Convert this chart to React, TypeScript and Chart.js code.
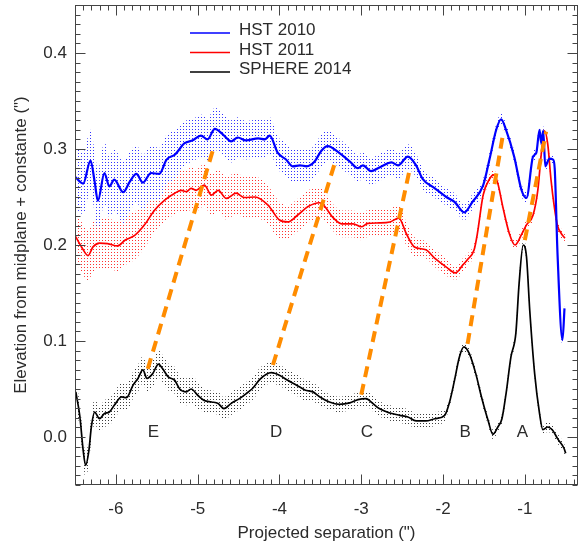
import { useEffect, useRef } from 'react';
import { Chart, registerables } from 'chart.js';

Chart.register(...registerables);

// ---------- data ----------
const blueX = [-6.50, -6.40, -6.31, -6.26, -6.22, -6.14, -6.08, -6.02, -5.91, -5.83, -5.75, -5.67, -5.57, -5.47, -5.38, -5.28, -5.16, -5.06, -4.96, -4.88, -4.79, -4.69, -4.59, -4.51, -4.41, -4.26, -4.18, -4.12, -4.02, -3.92, -3.84, -3.75, -3.67, -3.57, -3.49, -3.41, -3.27, -3.14, -3.04, -2.98, -2.88, -2.76, -2.63, -2.55, -2.43, -2.33, -2.25, -2.10, -1.96, -1.86, -1.74, -1.64, -1.51, -1.43, -1.35, -1.29, -1.23, -1.13, -1.04, -0.98, -0.90, -0.86, -0.82, -0.80, -0.775, -0.75, -0.70, -0.655, -0.635, -0.60, -0.54, -0.515];
const blueY = [0.271, 0.264, 0.288, 0.266, 0.246, 0.275, 0.261, 0.268, 0.255, 0.266, 0.274, 0.265, 0.275, 0.274, 0.289, 0.294, 0.306, 0.309, 0.314, 0.310, 0.321, 0.315, 0.308, 0.312, 0.309, 0.311, 0.310, 0.314, 0.296, 0.289, 0.282, 0.283, 0.282, 0.287, 0.298, 0.303, 0.296, 0.287, 0.280, 0.283, 0.277, 0.2815, 0.286, 0.283, 0.292, 0.283, 0.269, 0.259, 0.250, 0.245, 0.234, 0.245, 0.262, 0.290, 0.320, 0.331, 0.320, 0.292, 0.257, 0.249, 0.292, 0.296, 0.320, 0.306, 0.319, 0.282, 0.290, 0.289, 0.280, 0.190, 0.101, 0.134];
const blueErr = [0.032, 0.032, 0.032, 0.032, 0.032, 0.032, 0.032, 0.032, 0.032, 0.031, 0.030, 0.029, 0.028, 0.027, 0.026, 0.025, 0.023, 0.022, 0.022, 0.022, 0.022, 0.022, 0.022, 0.021, 0.020, 0.020, 0.020, 0.019, 0.017, 0.017, 0.017, 0.017, 0.017, 0.017, 0.017, 0.016, 0.015, 0.014, 0.014, 0.014, 0.014, 0.014, 0.014, 0.014, 0.013, 0.012, 0.011, 0.010, 0.009, 0.009, 0.008, 0.008, 0.007, 0.007, 0.006, 0.006, 0.006, 0.006, 0.006, 0.006, 0.006, 0.006, 0.005, 0.005, 0.005, 0.005, 0.005, 0.005, 0.005, 0.005, 0.005, 0.005];

const redX = [-6.50, -6.42, -6.34, -6.28, -6.20, -6.10, -5.98, -5.89, -5.77, -5.65, -5.53, -5.40, -5.28, -5.20, -5.14, -5.08, -5.02, -4.92, -4.83, -4.75, -4.65, -4.53, -4.43, -4.30, -4.14, -4.00, -3.90, -3.78, -3.65, -3.51, -3.45, -3.35, -3.24, -3.10, -3.00, -2.92, -2.78, -2.65, -2.54, -2.45, -2.35, -2.21, -2.10, -1.96, -1.85, -1.76, -1.70, -1.62, -1.58, -1.51, -1.43, -1.38, -1.33, -1.27, -1.19, -1.12, -1.04, -0.98, -0.90, -0.84, -0.80, -0.76, -0.72, -0.68, -0.64, -0.60, -0.555, -0.51];
const redY = [0.210, 0.198, 0.189, 0.198, 0.202, 0.2015, 0.199, 0.205, 0.210, 0.221, 0.236, 0.247, 0.254, 0.257, 0.2555, 0.259, 0.257, 0.2625, 0.252, 0.257, 0.2485, 0.254, 0.2495, 0.250, 0.2415, 0.226, 0.224, 0.231, 0.240, 0.244, 0.2405, 0.229, 0.222, 0.222, 0.219, 0.2225, 0.223, 0.224, 0.228, 0.212, 0.198, 0.195, 0.186, 0.177, 0.171, 0.179, 0.185, 0.195, 0.212, 0.252, 0.269, 0.273, 0.264, 0.240, 0.212, 0.200, 0.211, 0.221, 0.231, 0.258, 0.294, 0.319, 0.305, 0.268, 0.240, 0.220, 0.212, 0.207];
const redErr = [0.026, 0.026, 0.026, 0.026, 0.026, 0.026, 0.026, 0.026, 0.025, 0.024, 0.023, 0.022, 0.022, 0.022, 0.022, 0.022, 0.022, 0.022, 0.022, 0.022, 0.022, 0.022, 0.021, 0.021, 0.020, 0.019, 0.017, 0.017, 0.017, 0.016, 0.015, 0.014, 0.014, 0.014, 0.014, 0.014, 0.014, 0.014, 0.014, 0.012, 0.010, 0.009, 0.009, 0.009, 0.007, 0.007, 0.006, 0.006, 0.005, 0.005, 0.005, 0.005, 0.005, 0.005, 0.005, 0.005, 0.005, 0.005, 0.005, 0.005, 0.005, 0.005, 0.005, 0.005, 0.005, 0.005, 0.005, 0.005];

const blackX = [-6.49, -6.44, -6.40, -6.37, -6.33, -6.30, -6.26, -6.20, -6.14, -6.08, -6.02, -5.93, -5.87, -5.79, -5.73, -5.67, -5.62, -5.55, -5.48, -5.43, -5.36, -5.28, -5.22, -5.14, -5.08, -5.00, -4.92, -4.83, -4.75, -4.68, -4.59, -4.49, -4.41, -4.33, -4.24, -4.16, -4.10, -4.00, -3.90, -3.79, -3.69, -3.59, -3.51, -3.39, -3.27, -3.14, -3.04, -2.94, -2.88, -2.78, -2.65, -2.53, -2.43, -2.33, -2.21, -2.10, -1.98, -1.92, -1.86, -1.80, -1.745, -1.68, -1.60, -1.53, -1.45, -1.39, -1.33, -1.28, -1.23, -1.17, -1.11, -1.07, -1.02, -0.98, -0.94, -0.88, -0.82, -0.78, -0.72, -0.66, -0.60, -0.52, -0.50];
const blackY = [0.047, 0.021, -0.014, -0.0295, -0.014, 0.0105, 0.026, 0.019, 0.0244, 0.026, 0.033, 0.0417, 0.041, 0.054, 0.061, 0.070, 0.061, 0.066, 0.076, 0.0713, 0.0626, 0.059, 0.050, 0.047, 0.050, 0.0435, 0.038, 0.0365, 0.035, 0.0296, 0.035, 0.040, 0.045, 0.0505, 0.060, 0.0654, 0.067, 0.0643, 0.059, 0.054, 0.049, 0.047, 0.042, 0.0365, 0.034, 0.0355, 0.039, 0.040, 0.0365, 0.0296, 0.025, 0.0226, 0.0209, 0.0167, 0.0167, 0.019, 0.0226, 0.0365, 0.059, 0.0834, 0.0938, 0.087, 0.066, 0.0417, 0.0174, 0.0028, 0.0104, 0.019, 0.045, 0.0834, 0.108, 0.160, 0.200, 0.188, 0.132, 0.066, 0.0244, 0.0077, 0.0104, 0.007, -0.0017, -0.012, -0.017];
const blackErr = [0.013, 0.013, 0.013, 0.013, 0.013, 0.013, 0.013, 0.013, 0.014, 0.014, 0.014, 0.014, 0.014, 0.014, 0.014, 0.014, 0.014, 0.014, 0.014, 0.014, 0.014, 0.014, 0.014, 0.014, 0.014, 0.014, 0.012, 0.012, 0.012, 0.012, 0.012, 0.012, 0.012, 0.012, 0.012, 0.011, 0.011, 0.011, 0.011, 0.011, 0.011, 0.010, 0.009, 0.008, 0.008, 0.008, 0.008, 0.008, 0.008, 0.008, 0.008, 0.008, 0.008, 0.008, 0.008, 0.007, 0.006, 0.005, 0.005, 0.005, 0.005, 0.005, 0.005, 0.005, 0.005, 0.005, 0.005, 0.005, 0.005, 0.005, 0.005, 0.005, 0.005, 0.005, 0.005, 0.005, 0.005, 0.005, 0.005, 0.005, 0.005, 0.005, 0.005];

// orange links between features (SPHERE 2014 -> HST 2010)
const linkStartX = [-5.61, -4.08, -3.00, -1.70, -1.00];
const linkStartY = [0.071, 0.075, 0.044, 0.097, 0.205];
const linkEndX = [-4.81, -3.31, -2.41, -1.26, -0.74];
const linkEndY = [0.300, 0.289, 0.278, 0.319, 0.318];

const featureNames = ['E', 'D', 'C', 'B', 'A'];
const featureX = [-5.54, -4.04, -2.93, -1.73, -1.03];
const featureY = [0, 0, 0, 0, 0];

const xTickValues = [-6, -5, -4, -3, -2, -1];
const yTickValues = [0.0, 0.1, 0.2, 0.3, 0.4];

const seriesNames = ['HST 2010', 'HST 2011', 'SPHERE 2014'];
const seriesColors = ['#0000ff', '#ff0000', '#000000'];

const FONT = '"Liberation Sans", Arial, Helvetica, sans-serif';
const TEXT = '#2b2b2b';

function toPts(xs: number[], ys: number[]) {
  return xs.map((x, i) => ({ x, y: ys[i] }));
}
function toBand(xs: number[], ys: number[], err: number[], sign: number) {
  return xs.map((x, i) => ({ x, y: ys[i] + sign * err[i] }));
}

export default function App() {
  const ref = useRef<HTMLCanvasElement>(null);

  useEffect(() => {
    const canvas = ref.current!;
    const mkPattern = (color: string) => {
      const c = document.createElement('canvas');
      c.width = 3;
      c.height = 3;
      const g = c.getContext('2d')!;
      g.fillStyle = color;
      g.fillRect(0, 0, 1, 1);
      return g.createPattern(c, 'repeat')!;
    };

    const series = [
      { xs: blueX, ys: blueY, err: blueErr, color: seriesColors[0], dot: 'rgb(50,50,255)', width: 2.2 },
      { xs: redX, ys: redY, err: redErr, color: seriesColors[1], dot: 'rgb(255,50,50)', width: 1.7 },
      { xs: blackX, ys: blackY, err: blackErr, color: seriesColors[2], dot: 'rgba(40,40,40,0.9)', width: 1.7 },
    ];

    const datasets: any[] = [];
    linkStartX.forEach((x0, i) => {
      datasets.push({
        data: [{ x: x0, y: linkStartY[i] }, { x: linkEndX[i], y: linkEndY[i] }],
        borderColor: '#ff8c00',
        borderWidth: 4,
        borderDash: [11, 7],
        borderCapStyle: 'butt',
        pointRadius: 0,
        fill: false,
        tension: 0,
        order: 1,
      });
    });
    series.forEach((s) => {
      datasets.push({
        data: toPts(s.xs, s.ys),
        borderColor: s.color,
        borderWidth: s.width,
        pointRadius: 0,
        fill: false,
        cubicInterpolationMode: 'monotone',
        order: 2,
      });
    });
    series.forEach((s) => {
      datasets.push({
        data: toBand(s.xs, s.ys, s.err, 1),
        borderColor: 'rgba(0,0,0,0)',
        borderWidth: 0,
        backgroundColor: mkPattern(s.dot),
        pointRadius: 0,
        fill: '+1',
        cubicInterpolationMode: 'monotone',
        order: 3,
      });
      datasets.push({
        data: toBand(s.xs, s.ys, s.err, -1),
        borderColor: 'rgba(0,0,0,0)',
        borderWidth: 0,
        pointRadius: 0,
        fill: false,
        cubicInterpolationMode: 'monotone',
        order: 3,
      });
    });

    const decor = {
      id: 'decor',
      afterDatasetsDraw(chart: any) {
        const { ctx, chartArea: a, scales } = chart;
        const xs = scales.x;
        const ys = scales.y;
        ctx.save();
        // frame
        ctx.strokeStyle = '#444';
        ctx.lineWidth = 1;
        const L = Math.round(a.left) + 0.5;
        const R = Math.round(a.right) - 0.5;
        const T = Math.round(a.top) + 0.5;
        const B = Math.round(a.bottom) - 0.5;
        ctx.strokeRect(L, T, R - L, B - T);
        // x ticks (major 1, minor 0.1), inward, top and bottom
        ctx.beginPath();
        for (let k = -65; k <= -4; k++) {
          const px = Math.round(xs.getPixelForValue(k / 10)) + 0.5;
          const len = k % 10 === 0 ? 10 : 5;
          ctx.moveTo(px, B);
          ctx.lineTo(px, B - len);
          ctx.moveTo(px, T);
          ctx.lineTo(px, T + len);
        }
        // y ticks (major 0.1, minor 0.01), inward, left and right
        for (let k = -5; k <= 45; k++) {
          const py = Math.round(ys.getPixelForValue(k / 100)) + 0.5;
          const len = k % 10 === 0 ? 10 : 5;
          ctx.moveTo(L, py);
          ctx.lineTo(L + len, py);
          ctx.moveTo(R, py);
          ctx.lineTo(R - len, py);
        }
        ctx.stroke();

        ctx.fillStyle = TEXT;
        ctx.font = `17px ${FONT}`;
        // feature labels
        ctx.textAlign = 'center';
        ctx.textBaseline = 'alphabetic';
        featureNames.forEach((n, i) => {
          ctx.fillText(n, xs.getPixelForValue(featureX[i]), ys.getPixelForValue(featureY[i]));
        });
        // axis titles
        ctx.fillText('Projected separation (")', (a.left + a.right) / 2, 538);
        ctx.save();
        ctx.translate(21, (a.top + a.bottom) / 2);
        ctx.rotate(-Math.PI / 2);
        ctx.textBaseline = 'middle';
        ctx.fillText('Elevation from midplane + constante (")', 0, 0);
        ctx.restore();
        // legend
        const rows = [33, 52.5, 72];
        seriesNames.forEach((n, i) => {
          ctx.strokeStyle = seriesColors[i];
          ctx.lineWidth = 1.5;
          ctx.beginPath();
          ctx.moveTo(190, rows[i]);
          ctx.lineTo(230, rows[i]);
          ctx.stroke();
          ctx.fillStyle = TEXT;
          ctx.textAlign = 'left';
          ctx.textBaseline = 'alphabetic';
          ctx.fillText(n, 239, rows[i] + 2);
        });
        ctx.restore();
      },
    };

    const chart = new Chart(canvas, {
      type: 'line',
      data: { datasets },
      options: {
        animation: false,
        responsive: false,
        devicePixelRatio: 1,
        layout: { padding: { left: 0, right: 3, top: 5, bottom: 0 } },
        plugins: {
          legend: { display: false },
          tooltip: { enabled: false },
          filler: { propagate: false },
        },
        elements: { point: { radius: 0 } },
        scales: {
          x: {
            type: 'linear',
            min: -6.5,
            max: -0.35,
            grid: { display: false, drawTicks: false },
            border: { display: false },
            afterBuildTicks: (s: any) => {
              s.ticks = xTickValues.map((v) => ({ value: v }));
            },
            afterFit: (s: any) => {
              s.height = 65;
              s.paddingLeft = 0;
              s.paddingRight = 0;
              s.paddingTop = 0;
              s.paddingBottom = 0;
            },
            ticks: {
              padding: 14,
              color: TEXT,
              font: { family: FONT, size: 17 },
              maxRotation: 0,
              autoSkip: false,
              callback: (v: any) => String(v),
            },
          },
          y: {
            type: 'linear',
            min: -0.05,
            max: 0.45,
            grid: { display: false, drawTicks: false },
            border: { display: false },
            afterBuildTicks: (s: any) => {
              s.ticks = yTickValues.map((v) => ({ value: v }));
            },
            afterFit: (s: any) => {
              s.width = 75;
              s.paddingLeft = 0;
              s.paddingRight = 0;
              s.paddingTop = 0;
              s.paddingBottom = 0;
            },
            ticks: {
              padding: 8,
              color: TEXT,
              font: { family: FONT, size: 17 },
              autoSkip: false,
              callback: (v: any) => Number(v).toFixed(1),
            },
          },
        },
      },
      plugins: [decor],
    } as any);

    return () => chart.destroy();
  }, []);

  return (
    <div style={{ position: 'absolute', left: 0, top: 0, width: 581, height: 550, background: '#fff' }}>
      <canvas ref={ref} width={581} height={550} style={{ width: 581, height: 550, display: 'block' }} />
    </div>
  );
}
